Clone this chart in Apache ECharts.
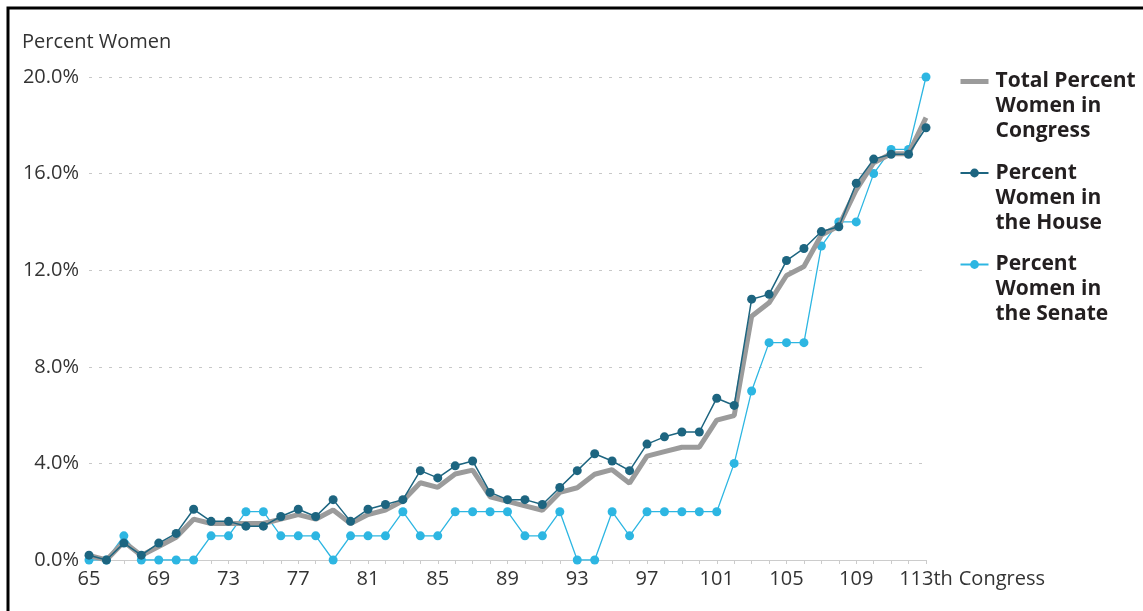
<!DOCTYPE html>
<html>
<head>
<meta charset="utf-8">
<script src="https://cdn.jsdelivr.net/npm/echarts@6/dist/echarts.min.js"></script>
<style>
html,body{margin:0;padding:0;background:#fff;}
#chart{width:1143px;height:611px;}
</style>
</head>
<body>
<div id="chart"></div>
<script>
const congresses = ['65','66','67','68','69','70','71','72','73','74','75','76','77','78','79','80','81','82','83','84','85','86','87','88','89','90','91','92','93','94','95','96','97','98','99','100','101','102','103','104','105','106','107','108','109','110','111','112','113'];
const totalPct = [0.19,0,0.75,0.19,0.56,0.94,1.69,1.51,1.51,1.51,1.51,1.69,1.88,1.69,2.07,1.51,1.88,2.07,2.45,3.2,3.01,3.56,3.72,2.62,2.43,2.24,2.06,2.8,2.99,3.55,3.74,3.18,4.3,4.49,4.67,4.67,5.79,5.98,10.09,10.65,11.78,12.15,13.46,13.83,15.33,16.45,16.82,16.82,18.32];
const housePct = [0.2,0,0.7,0.2,0.7,1.1,2.1,1.6,1.6,1.4,1.4,1.8,2.1,1.8,2.5,1.6,2.1,2.3,2.5,3.7,3.4,3.9,4.1,2.8,2.5,2.5,2.3,3.0,3.7,4.4,4.1,3.7,4.8,5.1,5.3,5.3,6.7,6.4,10.8,11.0,12.4,12.9,13.6,13.8,15.6,16.6,16.8,16.8,17.9];
const senatePct = [0,0,1,0,0,0,0,1,1,2,2,1,1,1,0,1,1,1,2,1,1,2,2,2,2,1,1,2,0,0,2,1,2,2,2,2,2,4,7,9,9,9,13,14,14,16,17,17,20];
const seriesNames = ['Total Percent\nWomen in\nCongress', 'Percent\nWomen in\nthe House', 'Percent\nWomen in\nthe Senate'];
const yAxisTitle = 'Percent Women';
const xAxisTitle = 'Congress';
const lastLabel = '113th';

const FONT = '"Open Sans", "Noto Sans", sans-serif';
const chart = echarts.init(document.getElementById('chart'), null, {renderer: 'canvas'});
chart.setOption({
  animation: false,
  backgroundColor: '#ffffff',
  title: {
    text: yAxisTitle, left: 22, top: 32, padding: 0,
    textStyle: {fontFamily: FONT, fontSize: 20, fontWeight: 'normal', color: '#333333'}
  },
  graphic: [{
    type: 'rect', silent: true, z: 100,
    shape: {x: 8, y: 8, width: 1300, height: 800},
    style: {fill: 'none', stroke: '#000', lineWidth: 3}
  }],
  grid: {left: 89, right: 217, top: 77, bottom: 51, containLabel: false},
  legend: {
    orient: 'vertical', left: 958, top: 19, padding: 0,
    itemWidth: 28, itemHeight: 11, itemGap: -33.5,
    data: [
      {name: seriesNames[0], lineStyle: {width: 5}},
      {name: seriesNames[1]},
      {name: seriesNames[2]}
    ],
    formatter: function (name) { return '\n\n' + name; },
    textStyle: {fontFamily: FONT, fontSize: 21, fontWeight: 'bold', lineHeight: 25, color: '#231f20', padding: [0, 0, 0, 2]}
  },
  xAxis: {
    type: 'category', data: congresses, boundaryGap: false,
    name: xAxisTitle, nameLocation: 'end', nameGap: 32,
    nameTextStyle: {fontFamily: FONT, fontSize: 20, color: '#333333', verticalAlign: 'top', padding: [9, 0, 0, 0]},
    axisLine: {lineStyle: {color: '#cccccc', width: 1}},
    axisTick: {show: true, interval: 0, length: 4, lineStyle: {color: '#cccccc'}},
    axisLabel: {
      interval: 3, margin: 9, fontFamily: FONT, fontSize: 20, color: '#333333',
      formatter: function (v) { return v === '113' ? lastLabel : v; }
    },
    splitLine: {show: false}
  },
  yAxis: {
    type: 'value', min: 0, max: 20, interval: 4,
    axisLine: {show: false}, axisTick: {show: false},
    axisLabel: {margin: 10, fontFamily: FONT, fontSize: 20, color: '#333333',
      formatter: function (v) { return v.toFixed(1) + '%'; }},
    splitLine: {show: true, showMinLine: false, lineStyle: {color: '#c8c8c8', width: 1, type: [3, 7]}}
  },
  series: [
    {
      name: seriesNames[0], type: 'line', data: totalPct, z: 3,
      symbol: 'none', lineStyle: {color: '#9b9b9b', width: 5}, itemStyle: {color: '#9b9b9b', opacity: 0}
    },
    {
      name: seriesNames[1], type: 'line', data: housePct, z: 4,
      symbol: 'circle', symbolSize: 9, showAllSymbol: true,
      lineStyle: {color: '#1d6580', width: 1.5}, itemStyle: {color: '#1d6580'}
    },
    {
      name: seriesNames[2], type: 'line', data: senatePct, z: 2,
      symbol: 'circle', symbolSize: 9, showAllSymbol: true,
      lineStyle: {color: '#2db6e2', width: 1.3}, itemStyle: {color: '#2db6e2'}
    }
  ]
});
</script>
</body>
</html>
